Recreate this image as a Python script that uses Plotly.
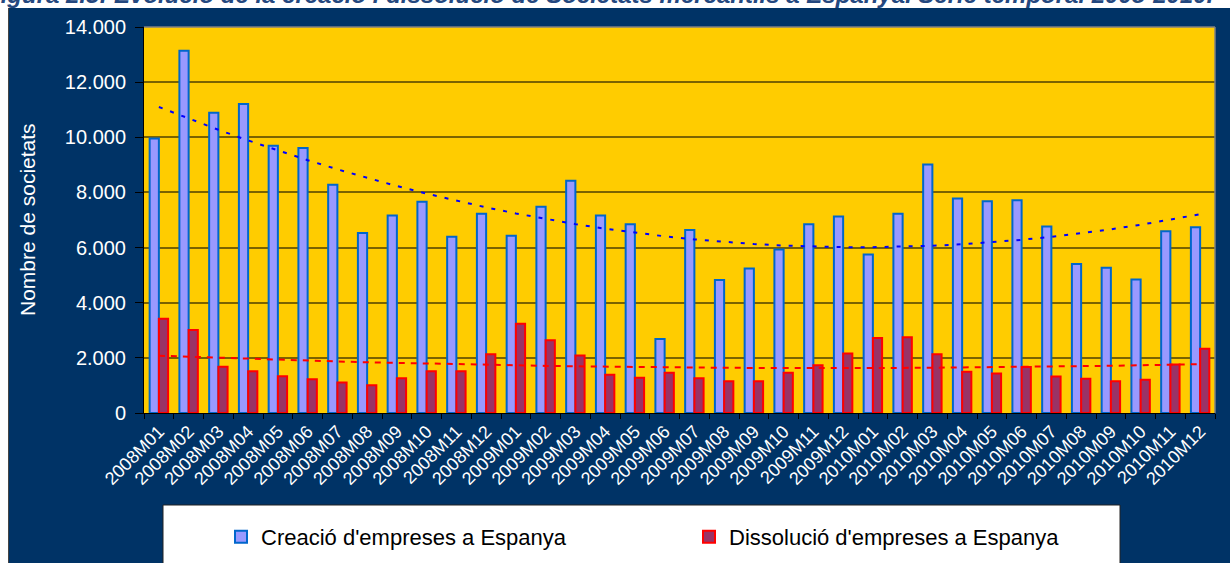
import numpy as np
import plotly.graph_objects as go

months = ["2008M01", "2008M02", "2008M03", "2008M04", "2008M05", "2008M06",
          "2008M07", "2008M08", "2008M09", "2008M10", "2008M11", "2008M12",
          "2009M01", "2009M02", "2009M03", "2009M04", "2009M05", "2009M06",
          "2009M07", "2009M08", "2009M09", "2009M10", "2009M11", "2009M12",
          "2010M01", "2010M02", "2010M03", "2010M04", "2010M05", "2010M06",
          "2010M07", "2010M08", "2010M09", "2010M10", "2010M11", "2010M12"]

creacio = [9960, 13140, 10890, 11210, 9690, 9610, 8280, 6530, 7160, 7660, 6390, 7230,
           6430, 7480, 8420, 7160, 6850, 2680, 6640, 4820, 5240, 5930, 6850, 7130,
           5750, 7230, 9010, 7780, 7680, 7720, 6760, 5400, 5270, 4840, 6590, 6740]

dissolucio = [3420, 3010, 1680, 1510, 1330, 1220, 1110, 1010, 1260, 1510, 1510, 2130,
              3240, 2640, 2090, 1390, 1280, 1460, 1260, 1150, 1150, 1460, 1730, 2160,
              2720, 2750, 2130, 1500, 1430, 1670, 1320, 1240, 1150, 1210, 1760, 2330]

name_c = "Creació d'empreses a Espanya"
name_d = "Dissolució d'empreses a Espanya"
title_text = ("Figura 2.5: Evolució de la creació i dissolució de Societats "
              "mercantils a Espanya. Serie temporal 2008-2010.")
y_title = "Nombre de societats"

# polynomial (order 2) trend lines, as in the spreadsheet
xs = np.arange(1, len(months) + 1)
trend_c = np.polyval(np.polyfit(xs, creacio, 2), xs)
trend_d = np.polyval(np.polyfit(xs, dissolucio, 2), xs)

W, H = 1230, 563
ML, MR, MT, MB = 144, 15, 27, 150
PW, PH = W - ML - MR, H - MT - MB


def px(xp):  # figure pixel x -> paper x
    return (xp - ML) / PW


def py(yp):  # figure pixel y (from top) -> paper y
    return (H - MB - yp) / PH


FONT = "Arial, Liberation Sans, sans-serif"

fig = go.Figure()
fig.add_bar(x=months, y=creacio, name=name_c,
            marker=dict(color="#9999FF", line=dict(color="#0066CC", width=2)))
fig.add_bar(x=months, y=dissolucio, name=name_d,
            marker=dict(color="#993366", line=dict(color="#FF0000", width=2)))
fig.add_scatter(x=months, y=trend_c, mode="lines", showlegend=False, hoverinfo="skip",
                line=dict(color="#0000FF", width=2, dash="4px,8px"))
fig.add_scatter(x=months, y=trend_d, mode="lines", showlegend=False, hoverinfo="skip",
                line=dict(color="#FF0000", width=2, dash="6px,6px"))

shapes = [
    # white page strip on the left and top
    dict(type="rect", xref="paper", yref="paper", x0=px(-20), x1=px(8), y0=py(700), y1=py(-20),
         fillcolor="white", line=dict(width=0), layer="below"),
    dict(type="rect", xref="paper", yref="paper", x0=px(-20), x1=px(1300), y0=py(8), y1=py(-20),
         fillcolor="white", line=dict(width=0), layer="below"),
    dict(type="line", xref="paper", yref="paper", x0=px(8.5), x1=px(8.5), y0=py(8), y1=py(700),
         line=dict(color="#444444", width=1), layer="below"),
    # legend box
    dict(type="rect", xref="paper", yref="paper", x0=px(163), x1=px(1120), y0=py(620), y1=py(505),
         fillcolor="white", line=dict(color="#222222", width=1), layer="below"),
    # plot area border (top, right)
    dict(type="line", xref="paper", yref="paper", x0=0, x1=1, y0=1, y1=1,
         line=dict(color="#808080", width=1.5), layer="above"),
    dict(type="line", xref="paper", yref="paper", x0=1, x1=1, y0=0, y1=1,
         line=dict(color="#808080", width=1.5), layer="above"),
]

annotations = [
    dict(text="<b><i>" + title_text + "</i></b>", xref="paper", yref="paper",
         x=px(-16), y=py(10.5), xanchor="left", yanchor="bottom", showarrow=False,
         font=dict(family=FONT, size=24, color="#24487F")),
    dict(text=y_title, xref="paper", yref="paper", x=px(27), y=py(220),
         xanchor="center", yanchor="middle", textangle=-90, showarrow=False,
         font=dict(family=FONT, size=21, color="white")),
]

fig.update_layout(
    width=W, height=H,
    margin=dict(l=ML, r=MR, t=MT, b=MB, autoexpand=False),
    paper_bgcolor="#003366", plot_bgcolor="#FFCC00",
    font=dict(family=FONT, color="white"),
    barmode="group", bargap=0.38, bargroupgap=0,
    separators=",.",
    showlegend=True,
    legend=dict(orientation="h", x=px(221), y=py(537), xanchor="left", yanchor="middle",
                bgcolor="rgba(0,0,0,0)", borderwidth=0,
                font=dict(family=FONT, size=22, color="black"),
                entrywidth=423, entrywidthmode="pixels", traceorder="normal", itemwidth=30),
    shapes=shapes, annotations=annotations,
    xaxis=dict(type="category", tickangle=-45, tickfont=dict(size=18, color="white"),
               ticks="outside", tickson="boundaries", ticklen=5, tickcolor="black",
               showline=True, linecolor="black", linewidth=1, showgrid=False),
    yaxis=dict(range=[0, 14000], dtick=2000, tickformat=",d",
               tickfont=dict(size=20, color="white"), ticklabelstandoff=5,
               ticks="outside", ticklen=8, tickcolor="black",
               showline=True, linecolor="black", linewidth=1,
               showgrid=True, gridcolor="#7a6300", gridwidth=1.5, zeroline=False),
)

fig.write_html("out.html", config={"displayModeBar": False},
               post_script="document.body.style.margin='0';document.body.style.overflow='hidden';")
